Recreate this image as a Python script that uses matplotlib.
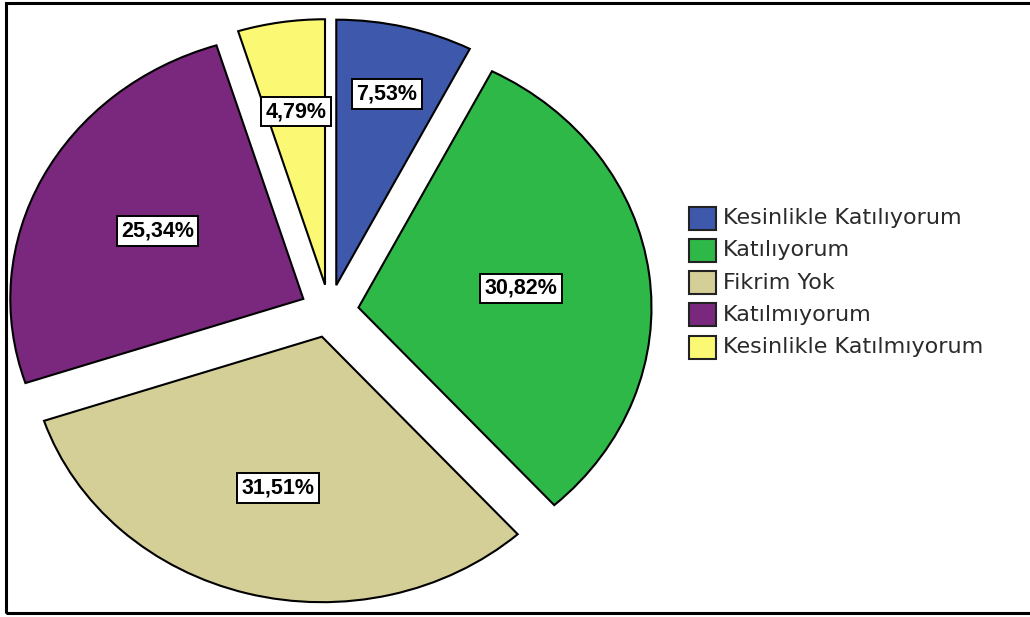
import numpy as np
import matplotlib.pyplot as plt
from matplotlib.patches import Rectangle

labels = ["Kesinlikle Katılıyorum", "Katılıyorum", "Fikrim Yok",
          "Katılmıyorum", "Kesinlikle Katılmıyorum"]
values = [7.53, 30.82, 31.51, 25.34, 4.79]
colors = ["#3e58ac", "#2eb848", "#d4ce97", "#79287d", "#fbf873"]

W, H = 1030, 617


def fx(px):
    return px / W


def fy(py):
    return 1 - py / H


fig = plt.figure(figsize=(W / 100, H / 100), dpi=100)
ax = fig.add_axes([0, 0, 1, 1])

wedges, _ = ax.pie(values, colors=colors, startangle=90, counterclock=False,
                   explode=[0.1] * len(values), radius=1,
                   wedgeprops=dict(edgecolor="black", linewidth=1.5))

# stretched (elliptical) pie like the original export
ax.set_aspect("auto")
ax.set_xlim(-1.1242, 2.391)
ax.set_ylim(-1.1525, 1.1714)
ax.axis("off")

# percentage labels in boxes
label_r = [0.74, 0.56, 0.59, 0.56, 0.66]
for w, v, r in zip(wedges, values, label_r):
    mid = np.deg2rad((w.theta1 + w.theta2) / 2)
    cx, cy = w.center
    ax.text(cx + r * np.cos(mid), cy + r * np.sin(mid),
            f"{v:.2f}%".replace(".", ","),
            ha="center", va="center", fontsize=15.5, fontweight="bold",
            family="Liberation Sans",
            bbox=dict(boxstyle="square,pad=0.2", facecolor="white",
                      edgecolor="black", linewidth=1.4))

# legend drawn by hand
for i, (lab, c) in enumerate(zip(labels, colors)):
    yc = 218 + 32.3 * i
    fig.patches.append(Rectangle((fx(689), fy(yc + 11.5)), fx(27), 23 / H,
                                 transform=fig.transFigure, facecolor=c,
                                 edgecolor="#222222", linewidth=1.5))
    fig.text(fx(723), fy(yc), lab, ha="left", va="center",
             fontsize=16, color="#2a2a2a", family="DejaVu Sans")

# outer frame
fig.patches.append(Rectangle((fx(6), fy(613)), fx(1030), (613 - 3) / H,
                             transform=fig.transFigure, facecolor="none",
                             edgecolor="black", linewidth=2.2))

fig.savefig("out.png", dpi=100)
